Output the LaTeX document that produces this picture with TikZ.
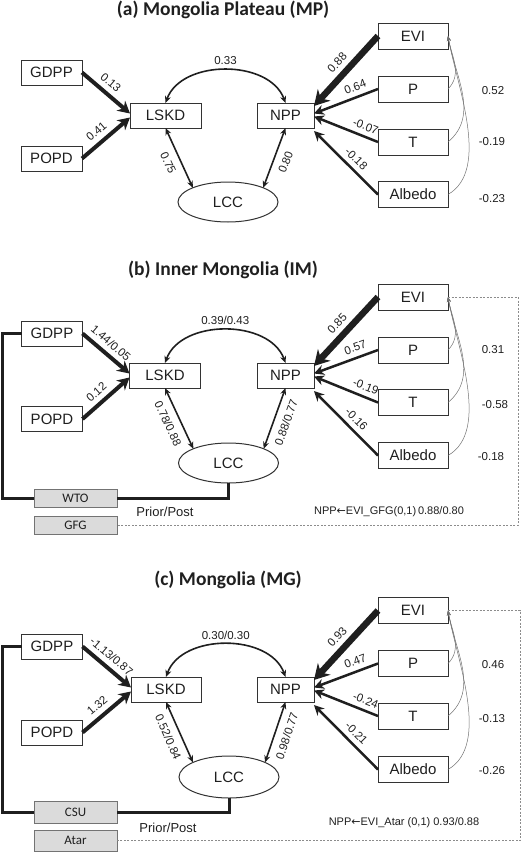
\documentclass[tikz,border=0pt]{standalone}
\usepackage{fontspec}
\setmainfont{Liberation Sans}
\newfontfamily\headfont{Carlito}
\newfontfamily\arrowfont{DejaVu Sans}
\usepackage{tikz}
\usetikzlibrary{arrows.meta}
\usetikzlibrary{shapes.geometric}
\definecolor{ink}{gray}{0.12}
\definecolor{boxline}{gray}{0.2}
\definecolor{tagfill}{gray}{0.86}
\definecolor{tagline}{gray}{0.45}
\definecolor{corrline}{gray}{0.45}
\definecolor{dashgrey}{gray}{0.55}
\tikzstyle{base}=[x=1pt, y=1pt, inner sep=0pt, outer sep=0pt, ink]
\tikzstyle{box}=[draw=boxline, rectangle, line width=1pt, minimum width=70pt, minimum height=25pt, font=\fontsize{15}{15}\selectfont]
\tikzstyle{oval}=[draw=boxline, ellipse, line width=1pt, minimum width=100pt, minimum height=40pt, font=\fontsize{15}{15}\selectfont]
\tikzstyle{tag}=[draw=tagline, fill=tagfill, rectangle, line width=0.8pt, minimum width=83pt, minimum height=18pt, font=\headfont\fontsize{13}{13}\selectfont]
\tikzstyle{title}=[font=\headfont\bfseries\fontsize{19.5}{19.5}\selectfont]
\tikzstyle{coef}=[inner sep=2pt, font=\fontsize{11.5}{11.5}\selectfont]
\tikzstyle{note}=[font=\fontsize{11}{11}\selectfont]
\tikzstyle{heavy}=[line width=6.5pt, -{Stealth[length=15pt, width=17pt]}]
\tikzstyle{strong}=[line width=4pt, -{Stealth[length=12pt, width=13pt]}]
\tikzstyle{medium}=[line width=2.5pt, -{Stealth[length=10pt, width=10pt]}]
\tikzstyle{link}=[line width=1.6pt, {Stealth[length=7pt, width=6pt]}-{Stealth[length=7pt, width=6pt]}]
\tikzstyle{corr}=[draw=corrline, line width=0.5pt, -{Stealth[length=5pt, width=4pt]}]
\tikzstyle{frame}=[line width=3pt]
\tikzstyle{guide}=[draw=dashgrey, line width=0.8pt, dash pattern=on 2pt off 1.5pt]
\newcommand*{\from}{{\arrowfont ←}}

\begin{document}
\begin{tikzpicture}[base]
    \useasboundingbox (0,0) rectangle (525,-854);

    % (a) Mongolia Plateau
    \node[title] (a-title) at (223,-10) {(a) Mongolia Plateau (MP)};
    \node[box, minimum width=61pt] (a-gdpp) at (51.5,-72.5) {GDPP};
    \node[box, minimum width=61pt] (a-popd) at (51.5,-158.5) {POPD};
    \node[box, minimum width=71pt] (a-lskd) at (165.5,-115.5) {LSKD};
    \node[box, minimum width=57pt] (a-npp) at (285.5,-115.5) {NPP};
    \node[oval] (a-lcc) at (228,-202) {LCC};
    \node[box, minimum height=26pt] (a-evi) at (413,-36) {EVI};
    \node[box, minimum height=26pt] (a-p) at (413,-89) {P};
    \node[box, minimum height=26pt] (a-t) at (413,-142) {T};
    \node[box, minimum height=26pt] (a-albedo) at (413,-194.5) {Albedo};
    \node[coef] (a-r1) at (493,-91) {0.52};
    \node[coef] (a-r2) at (492,-142) {-0.19};
    \node[coef] (a-r3) at (492,-199) {-0.23};

    \draw[strong] (a-gdpp.east) -- node[coef, sloped, above=5pt, pos=0.45] {0.13} ([yshift=2]a-lskd.west);
    \draw[strong] (a-popd.east) -- node[coef, sloped, above=5pt, pos=0.45] {0.41} ([yshift=-2]a-lskd.west);
    \draw[link] (a-lskd.north) to[out=70, in=110] node[coef, above=3pt] {0.33} (a-npp.north);
    \draw[link] (a-lskd.south) -- node[coef, sloped, below=6pt] {0.75} (a-lcc.158);
    \draw[link] (a-npp.south) -- node[coef, sloped, below=6pt] {0.80} (a-lcc.22);
    \draw[heavy] (a-evi.west) -- node[coef, sloped, above=6pt, pos=0.5] {0.88} ([yshift=-3]a-npp.north east);
    \draw[medium] (a-p.west) -- node[coef, sloped, above=4pt, pos=0.3] {0.64} ([yshift=2]a-npp.east);
    \draw[medium] (a-t.west) -- node[coef, sloped, above=4pt, pos=0.25] {-0.07} ([yshift=-1]a-npp.east);
    \draw[medium] (a-albedo.west) -- node[coef, sloped, above=4pt, pos=0.45] {-0.18} ([yshift=-3]a-npp.south east);
    \draw[corr] (a-p.east) to[out=45, in=-80] (a-evi.east);
    \draw[corr] (a-t.east) to[out=40, in=-80] (a-evi.east);
    \draw[corr] (a-albedo.east) to[out=30, in=-80, looseness=0.8] (a-evi.east);

    % (b) Inner Mongolia
    \node[title] (b-title) at (223,-270) {(b) Inner Mongolia (IM)};
    \node[box, minimum width=61pt] (b-gdpp) at (52,-333.5) {GDPP};
    \node[box, minimum width=61pt] (b-popd) at (52,-419) {POPD};
    \node[box, minimum width=71pt] (b-lskd) at (165,-375.5) {LSKD};
    \node[box, minimum width=57pt] (b-npp) at (285.5,-375.5) {NPP};
    \node[oval] (b-lcc) at (228.5,-463) {LCC};
    \node[box, minimum height=26pt] (b-evi) at (413,-297) {EVI};
    \node[box, minimum height=26pt] (b-p) at (413,-350) {P};
    \node[box, minimum height=26pt] (b-t) at (413,-402.5) {T};
    \node[box, minimum height=26pt] (b-albedo) at (413,-455.5) {Albedo};
    \node[tag] (b-wto) at (75.5,-498) {WTO};
    \node[tag] (b-gfg) at (75.5,-525) {GFG};
    \node[coef] (b-r1) at (493,-350) {0.31};
    \node[coef] (b-r2) at (495,-405) {-0.58};
    \node[coef] (b-r3) at (491,-457) {-0.18};
    \node[font=\fontsize{13}{13}\selectfont] (b-prior) at (165,-512) {Prior/Post};
    \node[note] (b-note) at (389,-512) {NPP\from EVI\_GFG(0,1)\,0.88/0.80};

    \draw[strong] (b-gdpp.east) -- node[coef, sloped, above=5pt, pos=0.45] {1.44/0.05} ([yshift=2]b-lskd.west);
    \draw[strong] (b-popd.east) -- node[coef, sloped, above=5pt, pos=0.45] {0.12} ([yshift=-2]b-lskd.west);
    \draw[link] (b-lskd.north) to[out=70, in=110] node[coef, above=3pt] {0.39/0.43} (b-npp.north);
    \draw[link] (b-lskd.south) -- node[coef, sloped, below=6pt] {0.78/0.88} (b-lcc.158);
    \draw[link] (b-npp.south) -- node[coef, sloped, below=6pt] {0.88/0.77} (b-lcc.22);
    \draw[heavy] (b-evi.west) -- node[coef, sloped, above=6pt, pos=0.5] {0.85} ([yshift=-3]b-npp.north east);
    \draw[medium] (b-p.west) -- node[coef, sloped, above=4pt, pos=0.3] {0.57} ([yshift=2]b-npp.east);
    \draw[medium] (b-t.west) -- node[coef, sloped, above=4pt, pos=0.25] {-0.19} ([yshift=-1]b-npp.east);
    \draw[medium] (b-albedo.west) -- node[coef, sloped, above=4pt, pos=0.45] {-0.16} ([yshift=-3]b-npp.south east);
    \draw[corr] (b-p.east) to[out=45, in=-80] (b-evi.east);
    \draw[corr] (b-t.east) to[out=40, in=-80] (b-evi.east);
    \draw[corr] (b-albedo.east) to[out=30, in=-80, looseness=0.8] (b-evi.east);
    \draw[frame] (b-gdpp.west) -- ++(-19,0) |- (b-wto.west);
    \draw[frame] (b-wto.east) -| (b-lcc.south);
    \draw[guide] (b-evi.east) -- ++(70,0) |- (b-gfg.east);

    % (c) Mongolia
    \node[title] (c-title) at (228,-580) {(c) Mongolia (MG)};
    \node[box, minimum width=61pt] (c-gdpp) at (52,-646.5) {GDPP};
    \node[box, minimum width=61pt] (c-popd) at (52,-732.5) {POPD};
    \node[box, minimum width=70pt] (c-lskd) at (166,-689.5) {LSKD};
    \node[box, minimum width=57pt] (c-npp) at (285.5,-689.5) {NPP};
    \node[oval, minimum height=42pt] (c-lcc) at (229,-777) {LCC};
    \node[box, minimum height=26pt] (c-evi) at (413,-610.5) {EVI};
    \node[box, minimum height=26pt] (c-p) at (413,-663.5) {P};
    \node[box, minimum height=26pt] (c-t) at (413,-716) {T};
    \node[box, minimum height=26pt] (c-albedo) at (413,-769.5) {Albedo};
    \node[tag, minimum height=22pt] (c-csu) at (75.5,-812) {CSU};
    \node[tag, minimum height=21pt] (c-atar) at (75.5,-840.5) {Atar};
    \node[coef] (c-r1) at (493,-665) {0.46};
    \node[coef] (c-r2) at (492,-719) {-0.13};
    \node[coef] (c-r3) at (492,-771) {-0.26};
    \node[font=\fontsize{13}{13}\selectfont] (c-prior) at (168,-828) {Prior/Post};
    \node[note] (c-note) at (404,-823) {NPP\from EVI\_Atar (0,1) 0.93/0.88};

    \draw[strong] (c-gdpp.east) -- node[coef, sloped, above=5pt, pos=0.45] {-1.13/0.87} ([yshift=2]c-lskd.west);
    \draw[strong] (c-popd.east) -- node[coef, sloped, above=5pt, pos=0.45] {1.32} ([yshift=-2]c-lskd.west);
    \draw[link] (c-lskd.north) to[out=70, in=110] node[coef, above=3pt] {0.30/0.30} (c-npp.north);
    \draw[link] (c-lskd.south) -- node[coef, sloped, below=6pt] {0.52/0.84} (c-lcc.158);
    \draw[link] (c-npp.south) -- node[coef, sloped, below=6pt] {0.98/0.77} (c-lcc.22);
    \draw[heavy] (c-evi.west) -- node[coef, sloped, above=6pt, pos=0.5] {0.93} ([yshift=-3]c-npp.north east);
    \draw[medium] (c-p.west) -- node[coef, sloped, above=4pt, pos=0.3] {0.47} ([yshift=2]c-npp.east);
    \draw[medium] (c-t.west) -- node[coef, sloped, above=4pt, pos=0.25] {-0.24} ([yshift=-1]c-npp.east);
    \draw[medium] (c-albedo.west) -- node[coef, sloped, above=4pt, pos=0.45] {-0.21} ([yshift=-3]c-npp.south east);
    \draw[corr] (c-p.east) to[out=45, in=-80] (c-evi.east);
    \draw[corr] (c-t.east) to[out=40, in=-80] (c-evi.east);
    \draw[corr] (c-albedo.east) to[out=30, in=-80, looseness=0.8] (c-evi.east);
    \draw[frame] (c-gdpp.west) -- ++(-19,0) |- (c-csu.west);
    \draw[frame] (c-csu.east) -| (c-lcc.south);
    \draw[guide] (c-evi.east) -- ++(72,0) |- (c-atar.east);
\end{tikzpicture}
\end{document}
